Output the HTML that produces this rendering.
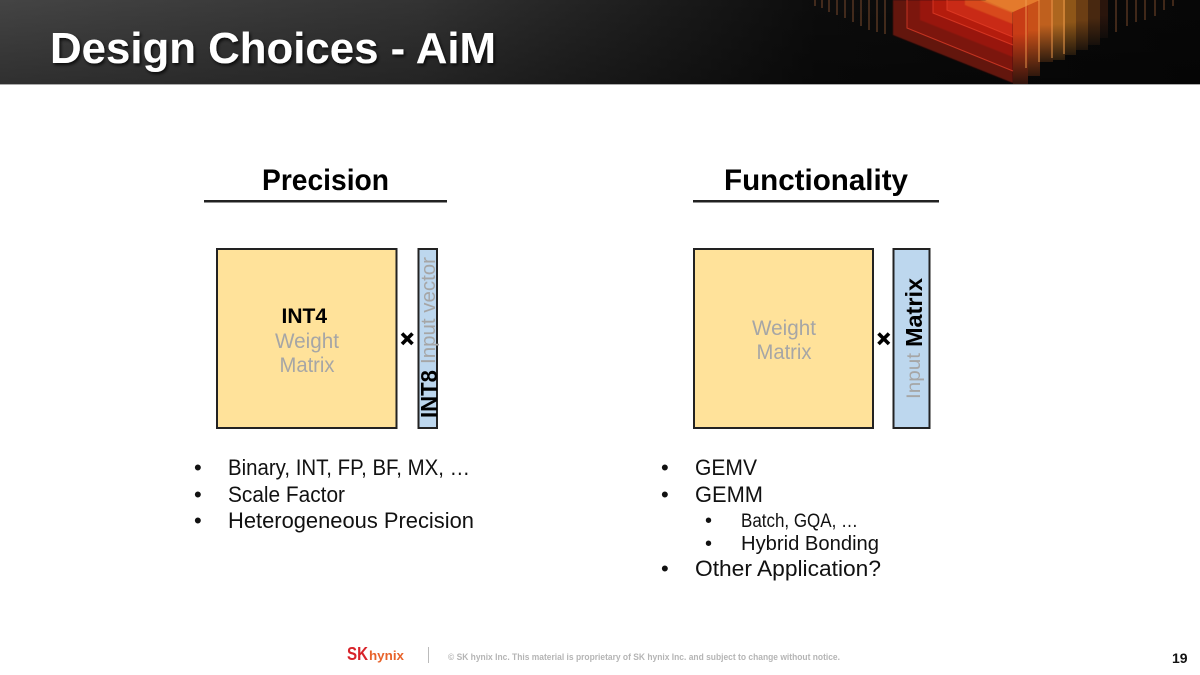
<!DOCTYPE html>
<html><head><meta charset="utf-8"><style>
html,body{margin:0;padding:0;background:#fff}
svg{display:block}
text{font-family:"Liberation Sans",sans-serif}
</style></head><body>
<svg width="1200" height="675" viewBox="0 0 1200 675" xmlns="http://www.w3.org/2000/svg">
<defs>
<linearGradient id="hd" x1="0" x2="1" y1="0" y2="0"><stop offset="0" stop-color="#444"/><stop offset=".35" stop-color="#333"/><stop offset=".68" stop-color="#0c0c0c"/><stop offset="1" stop-color="#070707"/></linearGradient>
<linearGradient id="hv" x1="0" x2="0" y1="0" y2="1"><stop offset="0" stop-color="#000" stop-opacity="0"/><stop offset="1" stop-color="#000" stop-opacity=".3"/></linearGradient>
<linearGradient id="colfade" x1="0" x2="0" y1="0" y2="1"><stop offset=".4" stop-color="#0a0a0a" stop-opacity="0"/><stop offset="1" stop-color="#0a0a0a" stop-opacity=".8"/></linearGradient>
<filter id="sh" x="-5%" y="-20%" width="110%" height="150%"><feDropShadow dx="1.5" dy="2" stdDeviation="1.5" flood-color="#000" flood-opacity=".8"/></filter>
<filter id="soft" x="-2%" y="-2%" width="104%" height="104%"><feGaussianBlur stdDeviation="0.6"/></filter>
</defs>
<rect width="1200" height="84" fill="url(#hd)"/>
<rect width="1200" height="84" fill="url(#hv)"/>
<rect y="84" width="1200" height="1" fill="#aaa"/>
<!-- fire graphic: nested chevrons on the left -->
<g filter="url(#soft)">
<polygon points="893,0 893,35 1013,83 1013,0" fill="#64120a"/>
<polygon points="907,0 907,28 1013,71 1013,0" fill="#7c160b"/>
<polygon points="920,0 920,20 1013,57 1013,0" fill="#98190c"/>
<polygon points="933,0 933,13 1013,45 1013,0" fill="#b41f0e"/>
<polygon points="947,0 947,10 1013,37 1013,0" fill="#c92a12"/>
<polygon points="965,0 965,5 1013,24 1013,0" fill="#d84a1c"/>
<polygon points="980,0 1013,13 1013,0" fill="#e0702a"/>
</g>
<!-- stepped columns on the right -->
<rect x="1013" y="0" width="15" height="84" fill="#c83c16"/>
<rect x="1028" y="0" width="12" height="76" fill="#c85018"/>
<rect x="1040" y="0" width="13" height="62" fill="#bf601e"/>
<rect x="1053" y="0" width="12" height="60" fill="#ad661f"/>
<rect x="1065" y="0" width="11" height="55" fill="#8e5618"/>
<rect x="1076" y="0" width="12" height="50" fill="#6c3e14"/>
<rect x="1088" y="0" width="12" height="45" fill="#482810"/>
<rect x="1100" y="0" width="8" height="38" fill="#2a150c"/>
<g fill="url(#colfade)">
<rect x="1013" y="0" width="15" height="84"/><rect x="1028" y="0" width="12" height="76"/><rect x="1040" y="0" width="13" height="62"/><rect x="1053" y="0" width="12" height="60"/><rect x="1065" y="0" width="11" height="55"/><rect x="1076" y="0" width="12" height="50"/><rect x="1088" y="0" width="12" height="45"/><rect x="1100" y="0" width="8" height="38"/>
</g>
<polygon points="985,0 1040,0 1013,12" fill="#e47a2c"/>
<g stroke="#e8402a" stroke-width="1" fill="none" opacity=".7">
<polyline points="907,0 907,28 1013,71"/><polyline points="933,0 933,13 1013,45"/><polyline points="947,0 947,10 1013,37"/>
</g>
<g stroke="#f0a050" stroke-width="1.200" opacity=".75">
<line x1="1026" y1="0" x2="1026" y2="68"/><line x1="1039" y1="0" x2="1039" y2="62"/><line x1="1052" y1="0" x2="1052" y2="58"/><line x1="1064" y1="0" x2="1064" y2="54"/>
</g>
<g stroke="#a8643a" stroke-width="1" opacity=".7">
<line x1="815" y1="0" x2="815" y2="6"/><line x1="822" y1="0" x2="822" y2="8"/><line x1="829" y1="0" x2="829" y2="12"/><line x1="837" y1="0" x2="837" y2="15"/><line x1="845" y1="0" x2="845" y2="18"/><line x1="853" y1="0" x2="853" y2="22"/><line x1="861" y1="0" x2="861" y2="26"/><line x1="869" y1="0" x2="869" y2="30"/><line x1="877" y1="0" x2="877" y2="32"/><line x1="885" y1="0" x2="885" y2="34"/>
<line x1="1116" y1="0" x2="1116" y2="32"/><line x1="1127" y1="0" x2="1127" y2="26"/><line x1="1136" y1="0" x2="1136" y2="22"/><line x1="1145" y1="0" x2="1145" y2="20"/><line x1="1155" y1="0" x2="1155" y2="16"/><line x1="1164" y1="0" x2="1164" y2="10"/><line x1="1173" y1="0" x2="1173" y2="6"/>
</g>
<text x="50" y="63" font-size="44" font-weight="700" fill="#fff" filter="url(#sh)" textLength="446" lengthAdjust="spacingAndGlyphs">Design Choices - AiM</text>

<text x="262" y="190" font-size="30" font-weight="700" fill="#000" textLength="127" lengthAdjust="spacingAndGlyphs">Precision</text>
<rect x="204" y="200" width="243" height="2.500" fill="#222"/>
<text x="724" y="190" font-size="30" font-weight="700" fill="#000" textLength="184" lengthAdjust="spacingAndGlyphs">Functionality</text>
<rect x="693" y="200" width="246" height="2.500" fill="#222"/>

<rect x="217" y="249" width="179.500" height="179" fill="#ffe29a" stroke="#222" stroke-width="2"/>
<rect x="418.500" y="249" width="18.500" height="179" fill="#bdd7ee" stroke="#222" stroke-width="2"/>
<rect x="694" y="249" width="179" height="179" fill="#ffe29a" stroke="#222" stroke-width="2"/>
<rect x="893.500" y="249" width="36" height="179" fill="#bdd7ee" stroke="#222" stroke-width="2"/>

<text x="281.500" y="323" font-size="21" font-weight="700" fill="#000">INT4</text>
<text x="275" y="348" font-size="21" fill="#a6a6a6" textLength="64" lengthAdjust="spacingAndGlyphs">Weight</text>
<text x="279.500" y="372" font-size="21" fill="#a6a6a6" textLength="55" lengthAdjust="spacingAndGlyphs">Matrix</text>
<text x="752" y="335" font-size="21" fill="#a6a6a6" textLength="64" lengthAdjust="spacingAndGlyphs">Weight</text>
<text x="756.500" y="359" font-size="21" fill="#a6a6a6" textLength="55" lengthAdjust="spacingAndGlyphs">Matrix</text>

<path d="M402 333.500L412.500 344M412.500 333.500L402 344" stroke="#000" stroke-width="3.600"/>
<path d="M878.500 333.500L889 344M889 333.500L878.500 344" stroke="#000" stroke-width="3.600"/>

<text transform="translate(437,418) rotate(-90)" font-size="23.500" font-weight="700" fill="#000" textLength="48" lengthAdjust="spacingAndGlyphs">INT8</text>
<text transform="translate(435,364) rotate(-90)" font-size="20" fill="#a6a6a6" textLength="107" lengthAdjust="spacingAndGlyphs">Input vector</text>
<text transform="translate(920,399) rotate(-90)" font-size="19.500" fill="#a6a6a6" textLength="46" lengthAdjust="spacingAndGlyphs">Input</text>
<text transform="translate(922,347) rotate(-90)" font-size="23" font-weight="700" fill="#000" textLength="69" lengthAdjust="spacingAndGlyphs">Matrix</text>

<g font-size="22" fill="#111">
<text x="194" y="475">•</text><text x="228" y="475" textLength="242" lengthAdjust="spacingAndGlyphs">Binary, INT, FP, BF, MX, …</text>
<text x="194" y="502">•</text><text x="228" y="502" textLength="117" lengthAdjust="spacingAndGlyphs">Scale Factor</text>
<text x="194" y="528">•</text><text x="228" y="528" textLength="246" lengthAdjust="spacingAndGlyphs">Heterogeneous Precision</text>
<text x="661" y="475">•</text><text x="695" y="475" textLength="62" lengthAdjust="spacingAndGlyphs">GEMV</text>
<text x="661" y="502">•</text><text x="695" y="502" textLength="68" lengthAdjust="spacingAndGlyphs">GEMM</text>
<text x="661" y="576">•</text><text x="695" y="576" textLength="186" lengthAdjust="spacingAndGlyphs">Other Application?</text>
</g>
<g font-size="20" fill="#111">
<text x="705" y="527">•</text><text x="741" y="527" font-size="19" textLength="117" lengthAdjust="spacingAndGlyphs">Batch, GQA, …</text>
<text x="705" y="550">•</text><text x="741" y="550" textLength="138" lengthAdjust="spacingAndGlyphs">Hybrid Bonding</text>
</g>

<text x="347" y="660" font-size="18" font-weight="700" fill="#d8232a" textLength="21" lengthAdjust="spacingAndGlyphs">SK</text>
<text x="369" y="660" font-size="13" font-weight="700" fill="#e8632a" textLength="35" lengthAdjust="spacingAndGlyphs">hynix</text>
<rect x="428" y="647" width="1" height="16" fill="#bbb"/>
<text x="448" y="660" font-size="9" font-weight="700" fill="#b5b5b5" textLength="392" lengthAdjust="spacingAndGlyphs">© SK hynix Inc. This material is proprietary of SK hynix Inc. and subject to change without notice.</text>
<text x="1172" y="663" font-size="14" font-weight="700" fill="#111">19</text>
</svg>
</body></html>
